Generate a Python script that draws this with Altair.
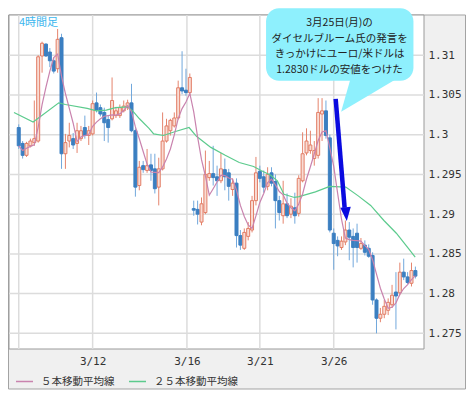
import altair as alt
import pandas as pd

# ---------------- data ----------------
bars = list(range(103))

opens = [1.3009, 1.2989, 1.2974, 1.2986, 1.2990, 1.2992, 1.3099, 1.3114, 1.3104, 1.3093,
         1.3083, 1.3122, 1.2976, 1.2992, 1.2995, 1.2989, 1.2995, 1.3009, 1.2999, 1.3001,
         1.3040, 1.3034, 1.3028, 1.3019, 1.3020, 1.3024, 1.3024, 1.3030, 1.3034, 1.3040,
         1.3005, 1.2936, 1.2961, 1.2955, 1.2962, 1.2957, 1.2934, 1.2957, 1.2992, 1.3005,
         1.3011, 1.3021, 1.3059, 1.3056, 1.3053, 1.2907, 1.2906, 1.2890, 1.2902, 1.2946,
         1.2951, 1.2947, 1.2942, 1.2956, 1.2952, 1.2931, 1.2939, 1.2873, 1.2857, 1.2872,
         1.2880, 1.2917, 1.2954, 1.2947, 1.2935, 1.2952, 1.2941, 1.2917, 1.2898, 1.2913,
         1.2900, 1.2908, 1.2901, 1.2942, 1.2977, 1.2980, 1.2970, 1.2974, 1.3026, 1.3030,
         1.2996, 1.2876, 1.2867, 1.2858, 1.2865, 1.2880, 1.2872, 1.2876, 1.2857, 1.2861,
         1.2857, 1.2848, 1.2792, 1.2769, 1.2774, 1.2779, 1.2786, 1.2802, 1.2801, 1.2827,
         1.2821, 1.2813, 1.2829]

highs = [1.3013, 1.2992, 1.2991, 1.2995, 1.3043, 1.3100, 1.3117, 1.3115, 1.3109, 1.3097,
         1.3133, 1.3127, 1.3001, 1.3015, 1.3002, 1.3015, 1.3011, 1.3024, 1.3011, 1.3043,
         1.3053, 1.3038, 1.3034, 1.3024, 1.3072, 1.3035, 1.3038, 1.3043, 1.3044, 1.3064,
         1.3008, 1.2967, 1.2967, 1.2982, 1.2976, 1.2976, 1.2971, 1.3028, 1.3020, 1.3020,
         1.3028, 1.3068, 1.3105, 1.3083, 1.3077, 1.2917, 1.2917, 1.2921, 1.2980, 1.2967,
         1.2986, 1.2961, 1.2977, 1.2970, 1.2957, 1.2945, 1.2945, 1.2880, 1.2882, 1.2890,
         1.2923, 1.2972, 1.2961, 1.2955, 1.2959, 1.2959, 1.2950, 1.2923, 1.2942, 1.2926,
         1.2920, 1.2927, 1.2949, 1.3003, 1.3008, 1.3005, 1.2992, 1.3046, 1.3046, 1.3043,
         1.3000, 1.2882, 1.2872, 1.2872, 1.2892, 1.2890, 1.2882, 1.2888, 1.2870, 1.2867,
         1.2862, 1.2852, 1.2794, 1.2782, 1.2792, 1.2794, 1.2811, 1.2827, 1.2839, 1.2844,
         1.2827, 1.2839, 1.2834]

lows = [1.2982, 1.2970, 1.2972, 1.2984, 1.2986, 1.2990, 1.3078, 1.3098, 1.3085, 1.3077,
        1.3078, 1.2957, 1.2957, 1.2984, 1.2982, 1.2977, 1.2992, 1.2995, 1.2987, 1.2999,
        1.3028, 1.3023, 1.2992, 1.2990, 1.3018, 1.3021, 1.3021, 1.3028, 1.3031, 1.3003,
        1.2922, 1.2930, 1.2952, 1.2952, 1.2942, 1.2926, 1.2911, 1.2955, 1.2990, 1.2999,
        1.3009, 1.3019, 1.3051, 1.3049, 1.3049, 1.2898, 1.2887, 1.2886, 1.2900, 1.2942,
        1.2936, 1.2923, 1.2939, 1.2930, 1.2917, 1.2923, 1.2858, 1.2855, 1.2855, 1.2867,
        1.2877, 1.2911, 1.2940, 1.2927, 1.2930, 1.2935, 1.2882, 1.2892, 1.2888, 1.2895,
        1.2895, 1.2888, 1.2897, 1.2940, 1.2974, 1.2976, 1.2961, 1.2970, 1.2992, 1.2995,
        1.2877, 1.2830, 1.2847, 1.2855, 1.2861, 1.2842, 1.2833, 1.2839, 1.2855, 1.2848,
        1.2845, 1.2786, 1.2750, 1.2764, 1.2769, 1.2773, 1.2782, 1.2755, 1.2798, 1.2817,
        1.2812, 1.2809, 1.2819]

closes = [1.2986, 1.2974, 1.2989, 1.2992, 1.2995, 1.3098, 1.3115, 1.3099, 1.3093, 1.3080,
          1.3120, 1.2976, 1.2990, 1.2999, 1.2987, 1.3005, 1.3005, 1.2999, 1.3005, 1.3039,
          1.3031, 1.3026, 1.3015, 1.3009, 1.3043, 1.3030, 1.3034, 1.3036, 1.3040, 1.3005,
          1.2934, 1.2959, 1.2956, 1.2961, 1.2955, 1.2932, 1.2957, 1.2992, 1.3011, 1.3018,
          1.3021, 1.3059, 1.3055, 1.3053, 1.3072, 1.2905, 1.2900, 1.2913, 1.2950, 1.2951,
          1.2946, 1.2942, 1.2957, 1.2947, 1.2935, 1.2939, 1.2873, 1.2861, 1.2877, 1.2882,
          1.2917, 1.2952, 1.2945, 1.2934, 1.2950, 1.2939, 1.2917, 1.2902, 1.2913, 1.2898,
          1.2910, 1.2898, 1.2945, 1.2976, 1.2992, 1.2987, 1.2980, 1.3028, 1.3030, 1.2999,
          1.2880, 1.2863, 1.2860, 1.2866, 1.2880, 1.2871, 1.2858, 1.2858, 1.2863, 1.2852,
          1.2847, 1.2792, 1.2769, 1.2774, 1.2784, 1.2789, 1.2798, 1.2797, 1.2827, 1.2821,
          1.2814, 1.2829, 1.2822]

# 25-bar moving average
ma25_bar = [-1.22, 3.7, 10.3, 12.0, 17.6, 20.0, 22.5, 24.9, 27.9, 29.3, 31.05, 33.5,
            34.7, 37.2, 40.3, 43.8, 45.7, 49.4, 53.1, 56.7, 60.4, 62.3, 64.8, 66.5,
            68.2, 70.9, 72.1, 76.3, 79.95, 84.1, 87.3, 90.5, 93.9, 97.1, 100.2, 101.95]
ma25_value = [1.3028, 1.3016, 1.3040, 1.3038, 1.3033, 1.3030, 1.3031, 1.3034, 1.3035,
              1.3030, 1.3020, 1.3008, 1.3001, 1.2999, 1.3004, 1.3009, 1.2998, 1.2984,
              1.2974, 1.2965, 1.2960, 1.2955, 1.2949, 1.2942, 1.2925, 1.2921, 1.2922,
              1.2928, 1.2935, 1.2934, 1.2923, 1.2911, 1.2892, 1.2876, 1.2857, 1.2846]

x_tick_values = [0, 19, 43.25, 62, 81]
x_tick_labels = ["", "3/12", "3/16", "3/21", "3/26"]
y_tick_values = [1.275, 1.28, 1.285, 1.29, 1.295, 1.30, 1.305, 1.31]

series_names = ["５本移動平均線", "２５本移動平均線"]
series_colors = ["#c983ae", "#5ccb8d"]

note_lines = ["3月25日(月)の", "ダイセルブルーム氏の発言を",
              "きっかけにユーロ/米ドルは", "1.2830ドルの安値をつけた"]
note_line_y = [1.31405, 1.31210, 1.31015, 1.30820]
note_x = 82.5
bubble_x = [63.6, 101.5]
bubble_y = [1.3068, 1.3159]
pointer_y = [1.3070, 1.3029]
pointer_x = [85.3, 82.9]
pointer_x2 = [97.1, 82.9]
arrow_x = [81.5, 83.8]
arrow_y = [1.3045, 1.2908]
arrow_head = (84.2, 1.2900)

# ---------------- layout ----------------
W, H = 415, 334
XD = [-1.22, 102.93]
YD = [1.27303, 1.31506]
FONT_JP = "Noto Sans CJK JP"
FONT_AX = "DejaVu Sans Mono"

xs = alt.Scale(domain=XD, nice=False, zero=False)
ys = alt.Scale(domain=YD, nice=False, zero=False)

label_expr = " : ".join(
    f"datum.value == {v} ? '{t}'" for v, t in zip(x_tick_values, x_tick_labels)) + " : ''"

x_axis = alt.Axis(values=x_tick_values, labelExpr=label_expr, grid=False, domain=False,
                  ticks=False, labelFont=FONT_AX, labelFontSize=11, labelColor="#333333",
                  labelPadding=6, title=None, zindex=1, labelFlush=False, labelOverlap=False)
y_axis = alt.Axis(orient="right", values=y_tick_values, format=".3~f", grid=False,
                  domain=False, ticks=False, labelFont=FONT_AX, labelFontSize=11,
                  labelColor="#333333", labelPadding=4, title=None, zindex=1,
                  labelFlush=False, labelOverlap=False)


def X(f):
    return alt.X(f, type="quantitative", scale=xs, axis=x_axis)


def Y(f):
    return alt.Y(f, type="quantitative", scale=ys, axis=y_axis)


one = pd.DataFrame({"a": [0]})
df = pd.DataFrame({"i": bars, "open": opens, "high": highs, "low": lows, "close": closes})
df25 = pd.DataFrame({"i": ma25_bar, "v": ma25_value, "series": series_names[1]})

cscale = alt.Scale(domain=series_names, range=series_colors)
legend = alt.Legend(orient="none", legendX=6, legendY=357, direction="horizontal",
                    title=None, symbolType="stroke", symbolSize=289, symbolStrokeWidth=1.5,
                    labelFont=FONT_JP, labelFontSize=10.5, labelColor="#333333",
                    columnPadding=11, labelOffset=7, padding=0)

panel = alt.Chart(one).mark_rect(fill="#f0f0f0", stroke="#a3a3a3", strokeWidth=1).encode(
    x=alt.value(-0.5), x2=alt.value(W + 41.5), y=alt.value(0), y2=alt.value(H + 40))
plotbg = alt.Chart(one).mark_rect(fill="white", stroke="#9a9a9a", strokeWidth=1).encode(
    x=alt.value(0), x2=alt.value(W), y=alt.value(0), y2=alt.value(H))

grid_v = alt.Chart(pd.DataFrame({"t": x_tick_values})).mark_rule(
    color="#dcdcdc", strokeWidth=1.5).encode(x=X("t"))
grid_h = alt.Chart(pd.DataFrame({"t": y_tick_values})).mark_rule(
    color="#dcdcdc", strokeWidth=1.5).encode(y=Y("t"))

up = "datum.close >= datum.open"
wicks = alt.Chart(df).mark_rule(strokeWidth=1).encode(
    x=X("i"), y=Y("low"), y2="high:Q",
    color=alt.condition(up, alt.value("#e5846d"), alt.value("#72a8dc")))

bodies = alt.Chart(df).mark_bar(size=3, strokeWidth=1).encode(
    x=X("i"), y=Y("open"), y2="close:Q",
    fill=alt.condition(up, alt.value("#f9dcd4"), alt.value("#3b7fc1")),
    stroke=alt.condition(up, alt.value("#e27d65"), alt.value("#3b7fc1")))

ma5 = alt.Chart(df).transform_window(
    ma5="mean(close)", frame=[-4, 0], sort=[alt.SortField("i")]
).transform_calculate(series=f"'{series_names[0]}'").mark_line(strokeWidth=1.2).encode(
    x=X("i"), y=Y("ma5"), color=alt.Color("series:N", scale=cscale, legend=legend))

ma25 = alt.Chart(df25).mark_line(strokeWidth=1.2).encode(
    x=X("i"), y=Y("v"), color=alt.Color("series:N", scale=cscale, legend=legend))

bubble = alt.Chart(pd.DataFrame({"x": [bubble_x[0]], "x2": [bubble_x[1]],
                                 "y": [bubble_y[0]], "y2": [bubble_y[1]]})).mark_rect(
    fill="#8ef0fd", cornerRadius=13).encode(x=X("x"), x2="x2:Q", y=Y("y"), y2="y2:Q")

pointer = alt.Chart(pd.DataFrame({"y": pointer_y, "x": pointer_x, "x2": pointer_x2})).mark_area(
    orient="horizontal", fill="#8ef0fd").encode(y=Y("y"), x=X("x"), x2="x2:Q")

arrow = alt.Chart(pd.DataFrame({"x": arrow_x, "y": arrow_y})).mark_line(
    color="#0a0ae0", strokeWidth=4.5).encode(x=X("x"), y=Y("y"))
head = alt.Chart(pd.DataFrame({"x": [arrow_head[0]], "y": [arrow_head[1]]})).mark_point(
    shape="M-0.75,-1L0.75,-1L0,1Z", filled=True, size=196, angle=355,
    color="#0a0ae0", opacity=1).encode(x=X("x"), y=Y("y"))

notes = alt.Chart(pd.DataFrame({"x": note_x, "y": note_line_y, "t": note_lines})).mark_text(
    font=FONT_JP, fontSize=10.5, color="#222222", baseline="middle").encode(
    x=X("x"), y=Y("y"), text="t:N")

tag = alt.Chart(one).mark_text(text="4時間足", font=FONT_JP, fontSize=11, color="#3cb6ee",
                               align="left", baseline="middle").encode(
    x=alt.value(10), y=alt.value(8))

chart = alt.layer(panel, plotbg, grid_v, grid_h, wicks, bodies, ma25, ma5,
                  bubble, pointer, arrow, head, notes, tag).properties(
    width=W, height=H,
    padding={"left": 1, "top": 7, "right": 42, "bottom": 42},
    autosize=alt.AutoSizeParams(type="none"),
    background="white",
).configure_view(strokeWidth=0)

chart.save("out.html", embed_options={"renderer": "svg", "actions": False})
